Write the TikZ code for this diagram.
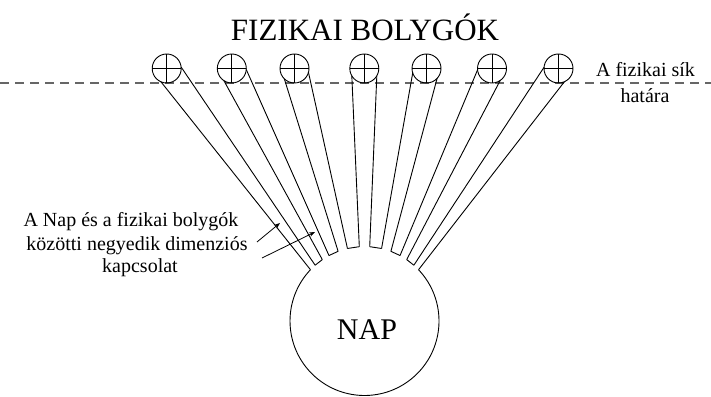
\documentclass[tikz,border=0pt]{standalone}
\usepackage{fontspec}
\setmainfont{Liberation Serif}
\usetikzlibrary{calc,arrows.meta}
\begin{document}
\begin{tikzpicture}[x=1pt,y=1pt,
  planet/.style={circle,draw,line width=0.9pt,minimum size=29pt,inner sep=0pt,
    path picture={\draw[line width=0.9pt] (path picture bounding box.north)--(path picture bounding box.south)
      (path picture bounding box.east)--(path picture bounding box.west);}},
  link/.style={line width=0.9pt},
  plane/.style={dash pattern=on 9pt off 6pt, line width=1.1pt, color=black!60},
  lbl/.style={font=\fontsize{20}{24}\selectfont, inner sep=0pt, anchor=base},
  ptr/.style={line width=0.8pt,-{Stealth[length=6pt,width=4.5pt]}}]
\useasboundingbox (0,0) rectangle (711,396);
% plane boundary
\coordinate (pl) at (0,313);
\coordinate (pr) at (711,313);
\draw[plane] (pl) -- (pr);
% sun
\coordinate (sun) at (364.5,75);
\def\R{74.5}
\foreach \i/\px/\t/\w in {1/166.7/134/2.5, 2/231.8/121.5/3, 3/294.5/107/3.75, 4/364.3/90/4,
                         5/426.5/73/3.75, 6/492/58.5/3, 7/558.5/46/2.5} {
  \node[planet] (p\i) at (\px,327.5) {};
  \coordinate (m\i) at ($(sun)+(\t:\R)$);
  \coordinate (bl\i) at ($(sun)+(\t+\w:\R)$);
  \coordinate (br\i) at ($(sun)+(\t-\w:\R)$);
  \coordinate (a\i) at ($(p\i.center)!7.3pt!(m\i)$);
  \coordinate (tl\i) at ($(a\i)!12.5pt!-90:(m\i)$);
  \coordinate (tr\i) at ($(a\i)!12.5pt!90:(m\i)$);
  \draw[link] (tl\i) -- (bl\i) (tr\i) -- (br\i);
}
\foreach \i/\j in {1/2,2/3,3/4,4/5,5/6,6/7} {
  \draw[link] (br\i) -- (bl\j);
}
\draw[link] (br7) arc[start angle=43.5, end angle=-223.5, radius=\R];
% texts
\node[lbl, font=\fontsize{31}{36}\selectfont] (title) at (365,355) {FIZIKAI BOLYGÓK};
\node[lbl, font=\fontsize{30}{36}\selectfont] (nap) at (367,57) {NAP};
\node[lbl] (r1) at (645.5,319) {A fizikai sík};
\node[lbl] (r2) at (645,293) {határa};
\node[lbl] (l1) at (131,169) {A Nap és a fizikai bolygók};
\node[lbl] (l2) at (137,145) {közötti negyedik dimenziós};
\node[lbl] (l3) at (140,123) {kapcsolat};
% pointers
\coordinate (a1s) at (257,154);
\coordinate (a1e) at (280,173);
\coordinate (a2s) at (262,138);
\coordinate (a2e) at (315,164);
\draw[ptr] (a1s) -- (a1e);
\draw[ptr] (a2s) -- (a2e);
\end{tikzpicture}
\end{document}
